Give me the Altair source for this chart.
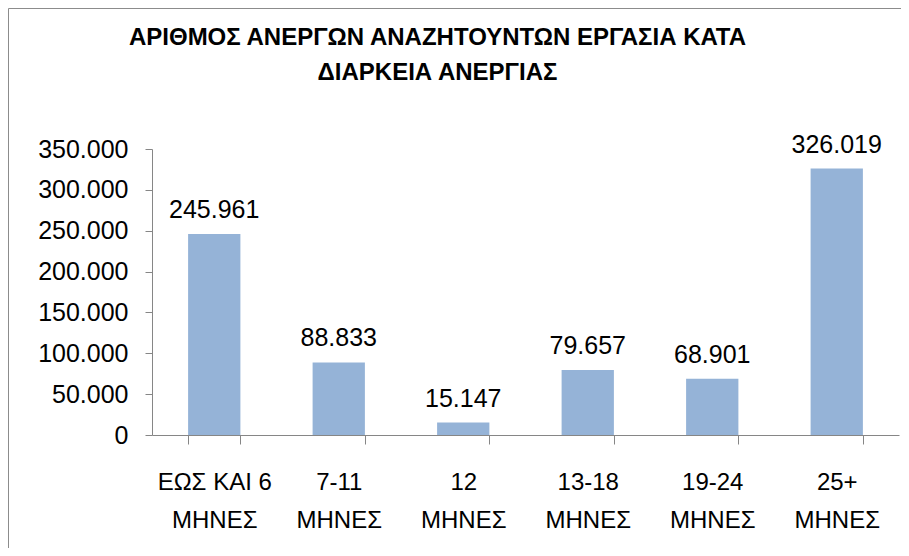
import altair as alt
import pandas as pd

categories = ["ΕΩΣ ΚΑΙ 6 ΜΗΝΕΣ", "7-11 ΜΗΝΕΣ", "12 ΜΗΝΕΣ", "13-18 ΜΗΝΕΣ", "19-24 ΜΗΝΕΣ", "25+ ΜΗΝΕΣ"]
values = [245961, 88833, 15147, 79657, 68901, 326019]
y_ticks = [0, 50000, 100000, 150000, 200000, 250000, 300000, 350000]
title_lines = ["ΑΡΙΘΜΟΣ ΑΝΕΡΓΩΝ ΑΝΑΖΗΤΟΥΝΤΩΝ ΕΡΓΑΣΙΑ ΚΑΤΑ", "ΔΙΑΡΚΕΙΑ ΑΝΕΡΓΙΑΣ"]

df = pd.DataFrame({"cat": categories, "val": values})

FONT = "Liberation Sans"
AXIS_GRAY = "#868686"

x = alt.X(
    "cat:N",
    sort=categories,
    scale=alt.Scale(paddingInner=0.58, paddingOuter=0.29),
    axis=alt.Axis(
        title=None,
        labelAngle=0,
        tickBand="extent",
        tickSize=9,
        tickColor=AXIS_GRAY,
        domainColor=AXIS_GRAY,
        labelFont=FONT,
        labelFontSize=24,
        labelColor="#000000",
        labelLineHeight=38,
        labelPadding=26,
        labelBaseline="top",
        labelExpr="[slice(datum.label, 0, lastindexof(datum.label, ' ')), slice(datum.label, lastindexof(datum.label, ' ') + 1)]",
    ),
)

y = alt.Y(
    "val:Q",
    scale=alt.Scale(domain=[0, 350000], nice=False),
    axis=alt.Axis(
        title=None,
        values=y_ticks,
        grid=False,
        tickSize=7,
        tickColor=AXIS_GRAY,
        domainColor=AXIS_GRAY,
        labelFont=FONT,
        labelFontSize=25,
        labelColor="#000000",
        labelPadding=17,
        labelExpr="replace(format(datum.value, ',.0f'), ',', '.')",
    ),
)

base = alt.Chart(df)

bars = base.mark_bar(color="#95B3D7").encode(x=x, y=y)

labels = base.transform_calculate(
    lab="replace(format(datum.val, ',.0f'), ',', '.')"
).mark_text(
    font=FONT, fontSize=25, color="#000000", baseline="alphabetic", dy=-16
).encode(x=x, y=y, text="lab:N")

border = alt.Chart(pd.DataFrame({"a": [0]})).mark_rect(
    fill=None, stroke="#8c8c8c", strokeWidth=1
).encode(
    x=alt.value(-143.5), x2=alt.value(900), y=alt.value(-140.5), y2=alt.value(600)
)

chart = alt.layer(border, bars, labels).properties(
    width=747,
    height=286,
    padding={"left": 144, "top": 141, "right": 2, "bottom": 113},
    autosize=alt.AutoSizeParams(type="none"),
    title=alt.TitleParams(
        text=title_lines,
        font=FONT,
        fontSize=24,
        fontWeight="bold",
        color="#000000",
        anchor="middle",
        frame="group",
        dx=-88,
        lineHeight=35,
        offset=-77,
    ),
).configure_view(stroke=None)

chart.save("out.html", embed_options={"renderer": "svg", "actions": False})
